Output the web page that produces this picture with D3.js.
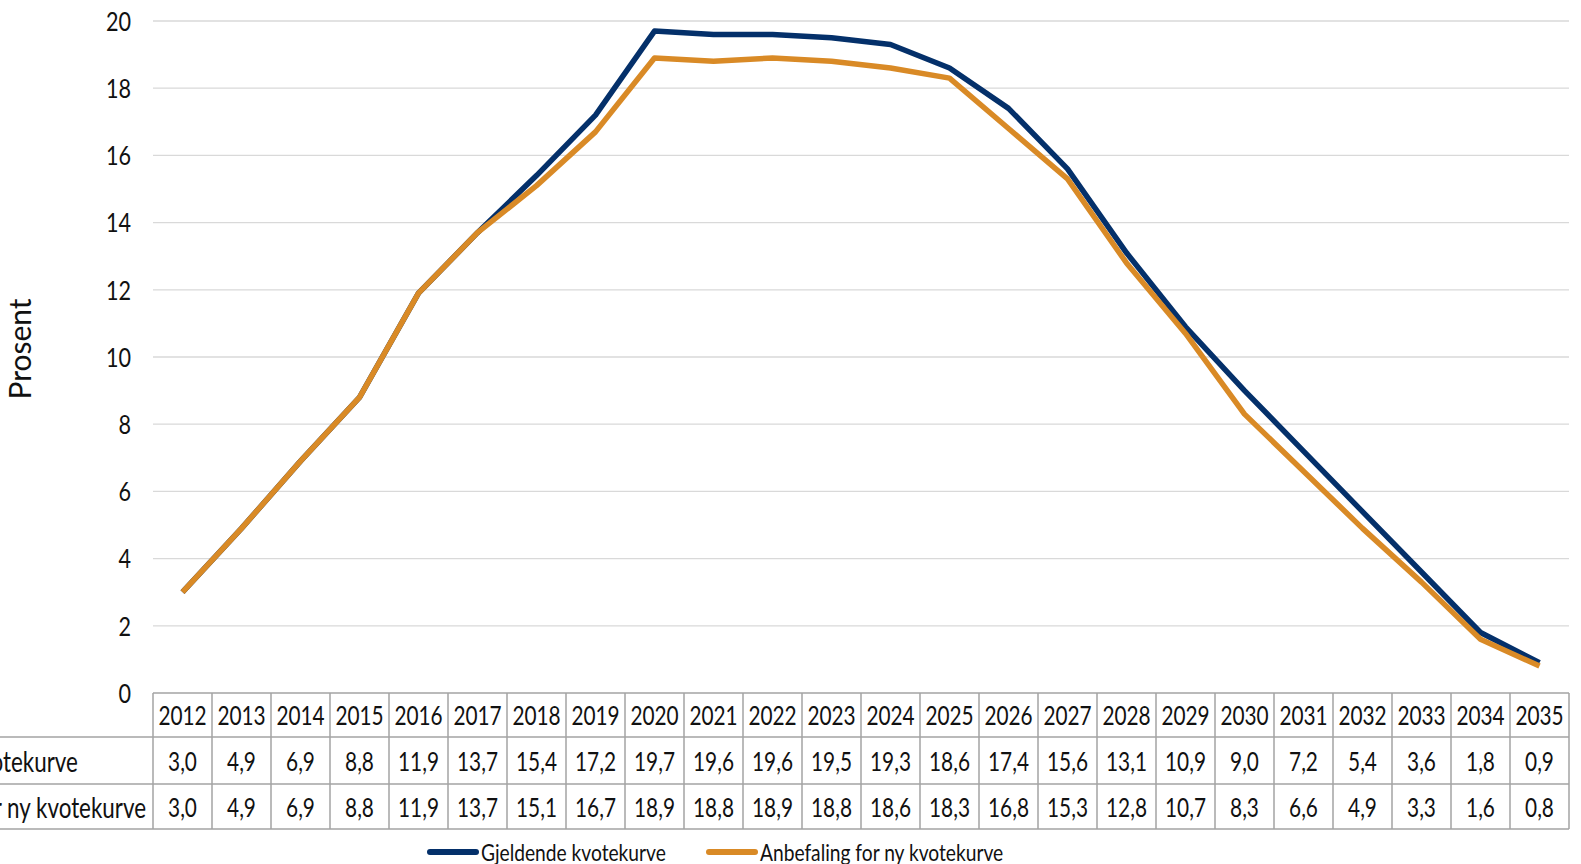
<!DOCTYPE html>
<html>
<head>
<meta charset="utf-8">
<script src="https://cdn.jsdelivr.net/npm/d3@7/dist/d3.min.js"></script>
<style>
  html, body { margin: 0; padding: 0; background: #fff; }
  svg { display: block; }
  text { font-family: Lato, 'Open Sans', sans-serif; fill: #111; }
</style>
</head>
<body>
<svg width="1581" height="864"></svg>
<script>
// data
const years = ['2012','2013','2014','2015','2016','2017','2018','2019','2020','2021','2022','2023',
               '2024','2025','2026','2027','2028','2029','2030','2031','2032','2033','2034','2035'];
const gjeldende = [3.0, 4.9, 6.9, 8.8, 11.9, 13.7, 15.4, 17.2, 19.7, 19.6, 19.6, 19.5,
                   19.3, 18.6, 17.4, 15.6, 13.1, 10.9, 9.0, 7.2, 5.4, 3.6, 1.8, 0.9];
const anbefaling = [3.0, 4.9, 6.9, 8.8, 11.9, 13.7, 15.1, 16.7, 18.9, 18.8, 18.9, 18.8,
                    18.6, 18.3, 16.8, 15.3, 12.8, 10.7, 8.3, 6.6, 4.9, 3.3, 1.6, 0.8];
const seriesNames = ['Gjeldende kvotekurve', 'Anbefaling for ny kvotekurve'];
const seriesColors = ['#04306a', '#d98a26'];
const yTicks = [0, 2, 4, 6, 8, 10, 12, 14, 16, 18, 20];

const svg = d3.select('svg'),
      plotL = 153, plotR = 1569, plotT = 21, plotB = 693,
      rowH = [44, 47, 45],
      squeeze = 0.8;   // the source font is tall and narrow

// narrow text: placed at (px, py), squeezed horizontally
const narrowText = (parent, px, py, str, size, anchor) =>
  parent.append('g')
      .attr('transform', 'translate(' + px + ',' + py + ') scale(' + squeeze + ',1)')
    .append('text')
      .attr('dy', '0.36em')
      .attr('text-anchor', anchor || 'start')
      .style('font-size', size + 'px')
      .text(str);

const x = d3.scaleBand().domain(years).range([plotL, plotR]);
const y = d3.scaleLinear().domain([0, 20]).range([plotB, plotT]);

// gridlines
svg.append('g')
  .selectAll('line')
  .data(yTicks.filter(d => d > 0))
  .join('line')
    .attr('x1', plotL).attr('x2', plotR)
    .attr('y1', d => y(d)).attr('y2', d => y(d))
    .attr('stroke', '#d9d9d9')
    .attr('stroke-width', 1.3);

// y axis labels
const yAxis = svg.append('g');
yTicks.forEach(t => narrowText(yAxis, plotL - 22, y(t), d3.format('d')(t), 27, 'end'));

svg.append('text')
    .attr('transform', 'translate(31,349) rotate(-90)')
    .attr('text-anchor', 'middle')
    .style('font-size', '30px')
    .text('Prosent');

// lines
const line = d3.line()
    .x((d, i) => x(years[i]) + x.bandwidth() / 2)
    .y(d => y(d));

[gjeldende, anbefaling].forEach((s, k) => {
  svg.append('path')
      .datum(s)
      .attr('fill', 'none')
      .attr('stroke', seriesColors[k])
      .attr('stroke-width', 5.5)
      .attr('stroke-linejoin', 'round')
      .attr('d', line);
});

// data table
const tbl = svg.append('g');
const y0 = plotB, y1 = y0 + rowH[0], y2 = y1 + rowH[1], y3 = y2 + rowH[2];
const border = '#a3a3a3';

tbl.append('line').attr('x1', plotL).attr('x2', plotR).attr('y1', y0).attr('y2', y0)
    .attr('stroke', border).attr('stroke-width', 1.5);
[y1, y2, y3].forEach(yy => {
  tbl.append('line').attr('x1', 0).attr('x2', plotR).attr('y1', yy).attr('y2', yy)
      .attr('stroke', border).attr('stroke-width', 1.5);
});
tbl.selectAll('line.v')
  .data(years.concat(['end']))
  .join('line')
    .attr('class', 'v')
    .attr('x1', d => d === 'end' ? plotR : x(d))
    .attr('x2', d => d === 'end' ? plotR : x(d))
    .attr('y1', y0).attr('y2', y3)
    .attr('stroke', border).attr('stroke-width', 1.5);

const fmt = v => d3.format('.1f')(v).replace('.', ',');
const cellText = (vals, yc) => {
  vals.forEach((v, i) => narrowText(tbl, x(years[i]) + x.bandwidth() / 2, yc, v, 26, 'middle'));
};
cellText(years, (y0 + y1) / 2 + 1);
cellText(gjeldende.map(fmt), (y1 + y2) / 2 + 1);
cellText(anbefaling.map(fmt), (y2 + y3) / 2 + 1);

// row labels, left aligned, cut off at page edge like the source
const labSize = 28;
const lab2 = narrowText(tbl, 0, (y2 + y3) / 2 + 1, seriesNames[1], labSize);
const startX = 146 - lab2.node().getComputedTextLength() * squeeze;
d3.select(lab2.node().parentNode)
    .attr('transform', 'translate(' + startX + ',' + ((y2 + y3) / 2 + 1) + ') scale(' + squeeze + ',1)');
narrowText(tbl, startX, (y1 + y2) / 2 + 1, seriesNames[0], labSize);

// legend
const legX = [430, 709];
const legend = svg.append('g');
seriesNames.forEach((name, k) => {
  legend.append('line')
      .attr('x1', legX[k]).attr('x2', legX[k] + 46)
      .attr('y1', 852).attr('y2', 852)
      .attr('stroke', seriesColors[k])
      .attr('stroke-width', 6)
      .attr('stroke-linecap', 'round');
  narrowText(legend, legX[k] + 51, 852, name, 24);
});
</script>
</body>
</html>
